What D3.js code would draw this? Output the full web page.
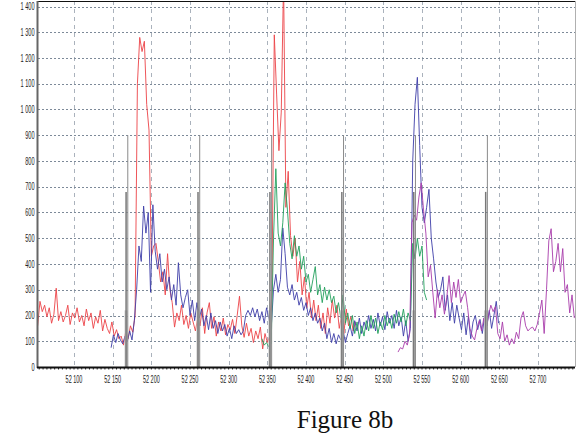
<!DOCTYPE html>
<html>
<head>
<meta charset="utf-8">
<script src="https://cdn.jsdelivr.net/npm/d3@7"></script>
<style>
  html, body { margin: 0; padding: 0; background: #fff; }
  svg { display: block; }
  .tk { font-family: "Liberation Sans", Arial, sans-serif; font-size: 10px; fill: #222; }
  .cap { font-family: "Liberation Serif", "Times New Roman", serif; font-size: 25px; fill: #111; }
</style>
</head>
<body>
<svg id="chart" width="582" height="434"></svg>
<script>
// ── Data ──────────────────────────────────────────────────────────────────────
const xTicks = [52100, 52150, 52200, 52250, 52300, 52350, 52400, 52450, 52500, 52550, 52600, 52650, 52700];
const yTicks = [0, 100, 200, 300, 400, 500, 600, 700, 800, 900, 1000, 1100, 1200, 1300, 1400];

const step = 3;   // sample spacing along x

const redStart = 52053;
const redVals = [
  160, 255, 215, 240, 195, 230, 170, 205, 306, 180,
  215, 175, 200, 240, 165, 210, 190, 230, 175, 200,
  160, 225, 180, 210, 150, 195, 170, 220, 140, 185,
  150, 130, 175, 120, 145, 110, 120, 85, 140, 110,
  160, 135, 200, 1100, 1280, 1225, 1265, 1020, 920, 430,
  470, 480, 410, 330, 370, 280, 440, 300, 250, 155,
  210, 180, 240, 165, 200, 150, 210, 175, 140, 190,
  160, 230, 130, 210, 250, 150, 195, 120, 175, 140,
  190, 125, 165, 145, 185, 130, 200, 275, 160, 115,
  170, 120, 150, 95, 140, 110, 155, 70, 130, 95,
  120, 300, 1290, 1060, 840, 990, 1500, 620, 760, 510,
  430, 500, 330, 410, 280, 350, 230, 290, 190, 260,
  180, 240, 150, 210, 130, 230, 170, 260, 190, 240,
  150, 200, 130, 225, 160, 195, 140, 175
];

const blueStart = 52148;
const blueVals = [
  75, 125, 95, 130, 105, 90, 120, 100, 140, 105,
  180, 300, 470, 410, 625, 520, 600, 290, 630, 450,
  380, 440, 330, 380, 300, 350, 260, 320, 240, 405,
  280, 230, 270, 300, 200, 260, 180, 250, 190, 225,
  160, 200, 145, 210, 150, 180, 130, 175, 140, 165,
  120, 150, 110, 160, 130, 145, 125, 140, 200, 220,
  200, 230, 195, 225, 180, 215, 170, 230, 190, 150,
  300, 360, 290, 340, 540, 440, 310, 280, 320, 260,
  290, 240, 270, 220, 250, 200, 230, 180, 210, 170,
  190, 140, 170, 110, 150, 95, 130, 90, 125, 105,
  140, 95, 130, 160, 120, 180, 140, 190, 130, 175,
  145, 200, 150, 185, 140, 210, 160, 195, 145, 215,
  170, 200, 150, 220, 160, 195, 120, 180, 100, 150,
  800, 1020, 1125, 860, 620, 560, 620, 690, 500, 420,
  330, 270, 300, 350, 220, 280, 180, 250, 170, 240,
  190, 145, 210, 125, 195, 110, 175, 200, 145, 185,
  130, 200, 160, 220, 150, 200, 255, 170
];

const greenStart = 52343;
const greenVals = [
  110, 85, 95, 78, 90, 500, 770, 520, 470, 560,
  715, 610, 480, 420, 510, 430, 470, 380, 430, 330,
  360, 290, 340, 390, 280, 320, 250, 310, 260, 300,
  250, 275, 210, 250, 190, 280, 170, 210, 150, 200,
  130, 175, 110, 160, 120, 180, 140, 200, 150, 190,
  130, 175, 145, 200, 160, 190, 150, 205, 170, 215,
  175, 225, 160, 210, 180, 480, 420, 500, 430, 470,
  290, 260
];

const purpleStart = 52519;
const purpleVals = [
  58, 75, 70, 100, 85, 130, 560, 590, 570, 660,
  715, 610, 520, 350, 395, 290, 190, 300, 230, 280,
  205, 270, 355, 250, 330, 270, 340, 250, 275, 295,
  230, 150, 120, 105, 150, 180, 140, 190, 150, 200,
  240, 215, 235, 130, 110, 175, 100, 125, 85, 110,
  90, 135, 110, 190, 215, 160, 140, 150, 155, 140,
  165, 210, 260, 130, 300, 490, 537, 370, 410, 480,
  370, 460, 290, 320, 210, 280, 190
];

// event markers: tall thin line and shorter thick line at each
const markers = [52168, 52261, 52354, 52447, 52540, 52633];
const markerTall = 900;
const markerShort = 680;

const series = [
  { start: redStart,    vals: redVals,    color: '#ec4448' },
  { start: blueStart,   vals: blueVals,   color: '#3e3ea8' },
  { start: greenStart,  vals: greenVals,  color: '#22a05c' },
  { start: purpleStart, vals: purpleVals, color: '#a83cab' }
];

// ── Layout ────────────────────────────────────────────────────────────────────
const L = 38, R = 575, T = 1, B = 367;

const x = d3.scaleLinear().domain([52100, 52700]).range([74, 538]);
const y = d3.scaleLinear().domain([0, 1400]).range([B, 6.5]);

const loc = d3.formatLocale({ decimal: ',', thousands: ' ', grouping: [3], currency: ['', ''] });
const fmt = loc.format(',');

const svg = d3.select('#chart');
svg.append('rect').attr('width', 582).attr('height', 434).attr('fill', '#fff');

svg.append('defs').append('clipPath').attr('id', 'plot')
  .append('rect').attr('x', L).attr('y', T).attr('width', R - L).attr('height', B - T);

// grid
const gGrid = svg.append('g');
gGrid.selectAll('.vg').data(xTicks).join('line')
  .attr('x1', d => Math.round(x(d)) + 0.5).attr('x2', d => Math.round(x(d)) + 0.5)
  .attr('y1', T).attr('y2', B)
  .attr('stroke', '#aab2bc').attr('stroke-width', 1).attr('stroke-dasharray', '4,4');
gGrid.selectAll('.hg').data(yTicks.filter(d => d > 0)).join('line')
  .attr('x1', L).attr('x2', R)
  .attr('y1', d => Math.round(y(d)) + 0.5).attr('y2', d => Math.round(y(d)) + 0.5)
  .attr('stroke', '#7d8a99').attr('stroke-width', 1).attr('stroke-dasharray', '2,2');

// data lines
const gLines = svg.append('g').attr('clip-path', 'url(#plot)');
series.forEach(s => {
  const line = d3.line()
    .x((d, i) => x(s.start + i * step))
    .y(d => y(d));
  gLines.append('path').datum(s.vals)
    .attr('d', line)
    .attr('fill', 'none')
    .attr('stroke', s.color)
    .attr('stroke-width', 1)
    .attr('stroke-opacity', 0.9);
});

// markers
const gMk = svg.append('g').attr('clip-path', 'url(#plot)');
gMk.selectAll('.mb').data(markers).join('line')
  .attr('x1', d => x(d) - 0.5).attr('x2', d => x(d) - 0.5)
  .attr('y1', B).attr('y2', y(220))
  .attr('stroke', '#c4c4c4').attr('stroke-width', 3);
gMk.selectAll('.ms').data(markers).join('line')
  .attr('x1', d => x(d) - 0.5).attr('x2', d => x(d) - 0.5)
  .attr('y1', B).attr('y2', y(markerShort))
  .attr('stroke', '#787878').attr('stroke-width', 1.5);
gMk.selectAll('.mt').data(markers).join('line')
  .attr('x1', d => x(d) + 1.2).attr('x2', d => x(d) + 1.2)
  .attr('y1', B).attr('y2', y(markerTall))
  .attr('stroke', '#8a8a8a').attr('stroke-width', 1);

// frame
svg.append('line').attr('x1', L).attr('x2', R).attr('y1', T + 0.5).attr('y2', T + 0.5)
  .attr('stroke', '#111').attr('stroke-width', 1.2);
svg.append('line').attr('x1', R + 0.5).attr('x2', R + 0.5).attr('y1', T).attr('y2', B)
  .attr('stroke', '#b0b0b0').attr('stroke-width', 1);
svg.append('line').attr('x1', L - 0.5).attr('x2', L - 0.5).attr('y1', T).attr('y2', B + 1)
  .attr('stroke', '#666').attr('stroke-width', 2);

// bottom axis with minor ticks
const minor = d3.range(52055, 52750, 5);
svg.append('g').selectAll('line').data(minor).join('line')
  .attr('x1', d => x(d)).attr('x2', d => x(d))
  .attr('y1', B).attr('y2', B + 2.5)
  .attr('stroke', '#222').attr('stroke-width', 1);
svg.append('line').attr('x1', L - 1).attr('x2', R).attr('y1', B + 0.5).attr('y2', B + 0.5)
  .attr('stroke', '#111').attr('stroke-width', 2);

// tick labels (narrow)
svg.append('g').selectAll('text').data(yTicks).join('text')
  .attr('class', 'tk')
  .attr('text-anchor', 'end')
  .attr('transform', d => `translate(34.5,${y(d) + 3.5}) scale(0.56,1)`)
  .text(d => fmt(d));

svg.append('g').selectAll('text').data(xTicks).join('text')
  .attr('class', 'tk')
  .attr('text-anchor', 'middle')
  .attr('transform', d => `translate(${x(d)},${383}) scale(0.55,1)`)
  .text(d => fmt(d));

// caption
svg.append('text').attr('class', 'cap')
  .attr('x', 345).attr('y', 428).attr('text-anchor', 'middle')
  .text('Figure 8b');
</script>
</body>
</html>
